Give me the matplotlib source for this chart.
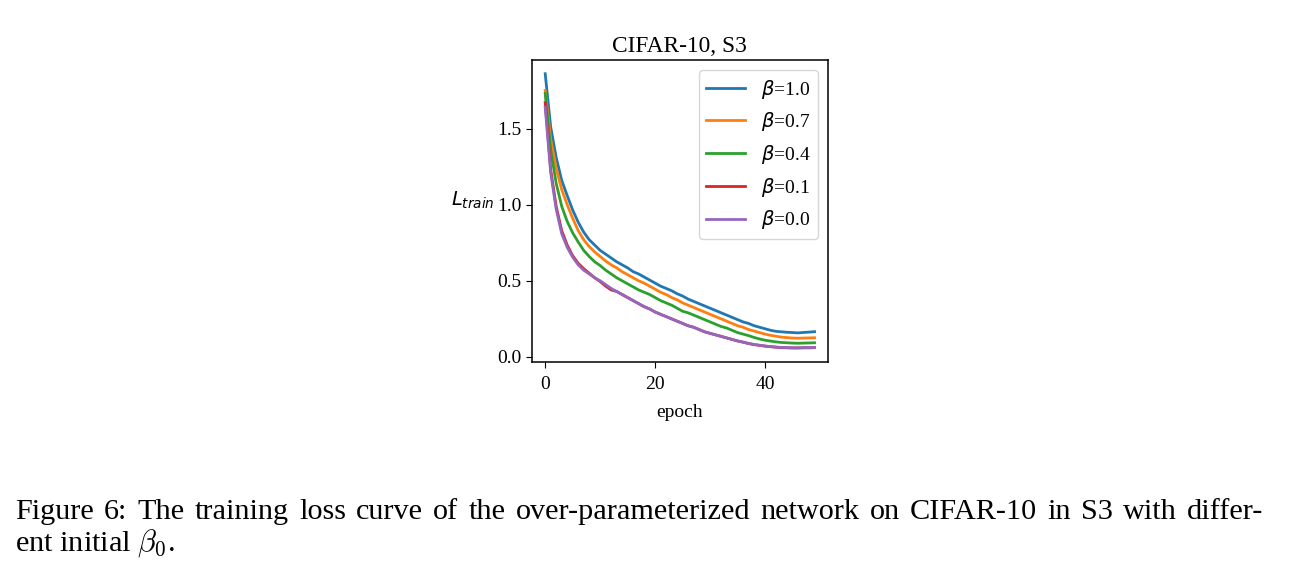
""" Training loss curves for different initial beta """
import matplotlib
matplotlib.use('Agg')
import matplotlib.pyplot as plt

# data
epochs = list(range(50))
betas = ['1.0', '0.7', '0.4', '0.1', '0.0']

loss_b10 = [1.86, 1.51, 1.31, 1.16, 1.06, 0.965, 0.885, 0.82, 0.77, 0.735,
            0.70, 0.675, 0.65, 0.625, 0.605, 0.585, 0.56, 0.545, 0.525, 0.505,
            0.485, 0.465, 0.45, 0.435, 0.415, 0.40, 0.38, 0.365, 0.35, 0.335,
            0.32, 0.305, 0.29, 0.275, 0.26, 0.245, 0.23, 0.22, 0.205, 0.195,
            0.185, 0.175, 0.168, 0.165, 0.162, 0.16, 0.158, 0.161, 0.163, 0.166]
loss_b07 = [1.75, 1.43, 1.24, 1.10, 1.00, 0.91, 0.83, 0.77, 0.725, 0.69,
            0.66, 0.63, 0.605, 0.585, 0.56, 0.54, 0.52, 0.50, 0.485, 0.465,
            0.445, 0.425, 0.41, 0.39, 0.375, 0.355, 0.34, 0.325, 0.31, 0.295,
            0.28, 0.265, 0.25, 0.235, 0.22, 0.205, 0.195, 0.18, 0.17, 0.16,
            0.15, 0.142, 0.136, 0.13, 0.127, 0.124, 0.123, 0.124, 0.125, 0.126]
loss_b04 = [1.73, 1.36, 1.14, 0.99, 0.89, 0.815, 0.755, 0.70, 0.66, 0.625,
            0.60, 0.57, 0.545, 0.52, 0.50, 0.48, 0.46, 0.44, 0.425, 0.41,
            0.39, 0.37, 0.355, 0.34, 0.32, 0.30, 0.29, 0.275, 0.26, 0.245,
            0.23, 0.215, 0.20, 0.19, 0.175, 0.16, 0.15, 0.14, 0.128, 0.118,
            0.11, 0.104, 0.099, 0.095, 0.093, 0.091, 0.09, 0.091, 0.092, 0.093]
loss_b01 = [1.67, 1.23, 0.99, 0.83, 0.735, 0.665, 0.615, 0.58, 0.55, 0.52,
            0.495, 0.465, 0.44, 0.43, 0.41, 0.39, 0.37, 0.35, 0.33, 0.315,
            0.295, 0.28, 0.265, 0.25, 0.235, 0.22, 0.205, 0.195, 0.18, 0.165,
            0.155, 0.145, 0.135, 0.125, 0.115, 0.105, 0.097, 0.088, 0.081, 0.076,
            0.071, 0.067, 0.064, 0.061, 0.06, 0.059, 0.059, 0.06, 0.06, 0.061]
loss_b00 = [1.64, 1.21, 0.97, 0.81, 0.72, 0.655, 0.605, 0.57, 0.545, 0.52,
            0.50, 0.475, 0.45, 0.43, 0.41, 0.39, 0.37, 0.35, 0.33, 0.315,
            0.295, 0.28, 0.265, 0.25, 0.235, 0.22, 0.205, 0.195, 0.18, 0.165,
            0.155, 0.145, 0.135, 0.125, 0.115, 0.105, 0.097, 0.089, 0.082, 0.077,
            0.072, 0.068, 0.065, 0.062, 0.061, 0.06, 0.06, 0.061, 0.061, 0.062]
series = [loss_b10, loss_b07, loss_b04, loss_b01, loss_b00]

caption_1 = ('Figure 6: The training loss curve of the over-parameterized network '
             'on CIFAR-10 in S3 with differ-')
caption_2 = r'ent initial $\beta_0$.'

plt.rcParams['font.family'] = ['Liberation Serif', 'DejaVu Serif']
plt.rcParams['font.size'] = 14
plt.rcParams['axes.linewidth'] = 1.1

fig = plt.figure(figsize=(12.95, 5.72), dpi=100)
ax = fig.add_axes([0.4106, 0.3677, 0.2288, 0.5274])

for beta, loss in zip(betas, series):
    ax.plot(epochs, loss, linewidth=2.0, label=r'$\beta$=' + beta)

ax.set_xticks([0, 20, 40])
ax.set_yticks([0.0, 0.5, 1.0, 1.5])
ax.tick_params(axis='both', length=4.5)
ax.tick_params(axis='x', pad=6)
ax.tick_params(axis='y', pad=3)
ax.set_title('CIFAR-10, S3')
ax.set_xlabel('epoch', labelpad=7.5)
ax.set_ylabel(r'$L_{train}$', rotation=0)
ax.yaxis.set_label_coords(-0.20, 0.5)
ax.legend(loc='upper right')

# caption, first line justified like the LaTeX source
cap_size = 21.8
words = caption_1.split(' ')
texts = [fig.text(0, 1 - 519 / 572, w, fontsize=cap_size, ha='left', va='baseline')
         for w in words]
renderer = fig.canvas.get_renderer()
widths = [t.get_window_extent(renderer).width for t in texts]
gap = (1248 - sum(widths)) / (len(words) - 1)
x = 15.0
for t, w in zip(texts, widths):
    t.set_x(x / 1295)
    x += w + gap
fig.text(15 / 1295, 1 - 550.7 / 572, caption_2, fontsize=cap_size, ha='left', va='baseline',
         math_fontfamily='cm')

fig.savefig('out.png', dpi=100)
plt.close()
